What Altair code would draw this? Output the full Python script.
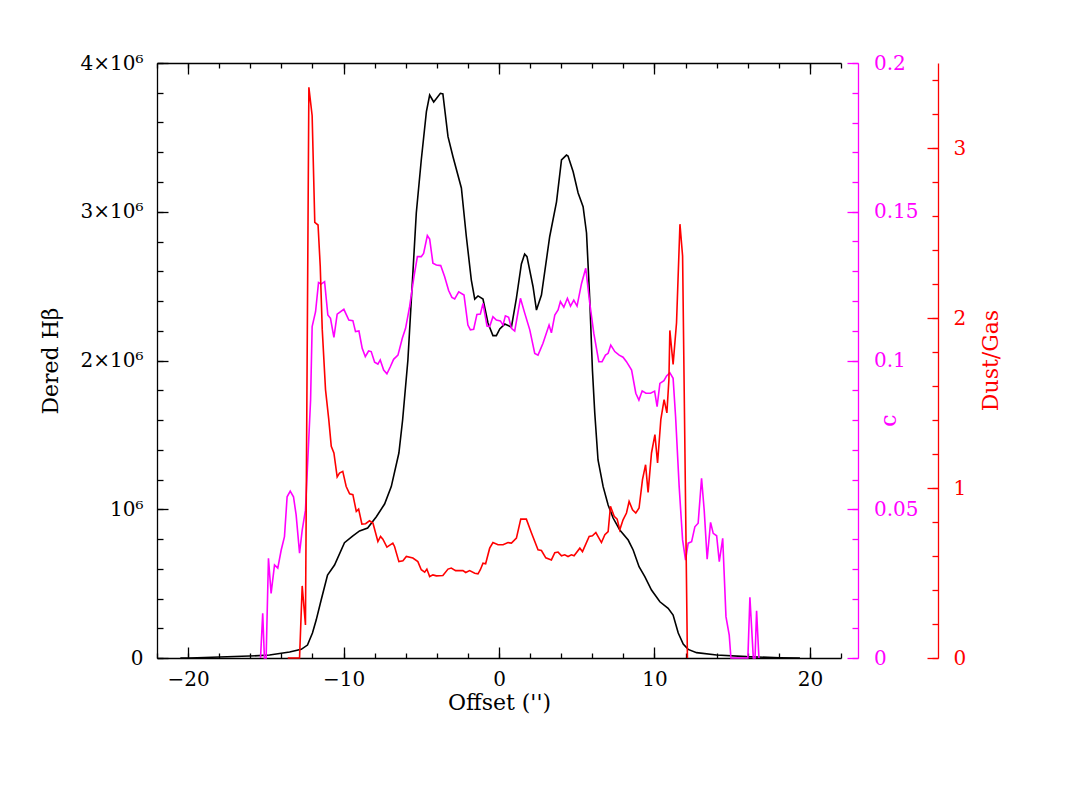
import altair as alt
import pandas as pd

# ---------------- data ----------------
# Dereddened H-beta (black), in units of 10^6
hb_x = [-20.5, -19.9, -16.05, -14.76, -13.47, -12.72, -12.32, -12.0, -11.76, -11.44,
        -11.03, -10.58, -9.94, -9.42, -8.97, -8.45, -7.89, -7.36, -6.93, -6.44,
        -6.20, -5.86, -5.32, -5.00, -4.67, -4.46, -4.20, -3.77, -3.61, -3.28,
        -2.96, -2.42, -2.10, -1.78, -1.56, -1.35, -1.03, -0.71, -0.39, -0.17,
        0.05, 0.37, 0.80, 1.12, 1.44, 1.65, 1.80, 2.19, 2.41, 2.73,
        3.26, 3.70, 4.02, 4.34, 4.44, 4.77, 5.09, 5.41, 5.63, 5.84,
        6.01, 6.16, 6.37, 6.70, 7.02, 7.34, 7.77, 8.31, 8.63, 9.01,
        9.38, 9.81, 10.35, 10.88, 11.20, 11.53, 11.85, 12.17, 12.71, 14.0,
        15.93, 18.07, 19.36]
hb_val = [0.0, 0.0, 0.013, 0.020, 0.040, 0.058, 0.087, 0.168, 0.255, 0.390,
          0.558, 0.625, 0.775, 0.820, 0.854, 0.874, 0.950, 1.035, 1.152, 1.378,
          1.600, 2.003, 2.992, 3.348, 3.673, 3.785, 3.738, 3.796, 3.792, 3.505,
          3.370, 3.160, 2.832, 2.541, 2.413, 2.434, 2.413, 2.252, 2.167, 2.167,
          2.212, 2.245, 2.225, 2.420, 2.649, 2.716, 2.698, 2.496, 2.339, 2.440,
          2.832, 3.067, 3.348, 3.381, 3.375, 3.269, 3.126, 3.034, 2.857, 2.407,
          1.936, 1.647, 1.331, 1.152, 1.029, 0.941, 0.861, 0.793, 0.726, 0.614,
          0.547, 0.457, 0.378, 0.334, 0.289, 0.168, 0.094, 0.058, 0.036, 0.020,
          0.009, 0.002, 0.0]

# Extinction coefficient c (magenta)
c_x = [-15.34, -15.20, -15.09, -14.98, -14.83, -14.66, -14.44, -14.23, -14.01, -13.80,
       -13.63, -13.43, -13.22, -13.05, -12.83, -12.66, -12.45, -12.30, -12.12, -12.02,
       -11.80, -11.61, -11.44, -11.22, -11.01, -10.84, -10.62, -10.41, -9.98, -9.66,
       -9.40, -9.23, -9.01, -8.80, -8.60, -8.39, -8.22, -8.00, -7.79, -7.64,
       -7.42, -7.21, -6.99, -6.78, -6.50, -6.22, -6.01, -5.75, -5.47, -5.25,
       -5.00, -4.85, -4.61, -4.46, -4.25, -4.03, -3.75, -3.50, -3.24, -3.03,
       -2.85, -2.59, -2.25, -2.00, -1.84, -1.63, -1.42, -1.20, -1.03, -0.77,
       -0.60, -0.39, -0.17, 0.09, 0.26, 0.41, 0.62, 0.80, 1.01, 1.38,
       1.65, 1.98, 2.30, 2.51, 2.83, 3.22, 3.37, 3.59, 3.80, 3.95,
       4.17, 4.40, 4.60, 4.81, 5.02, 5.31, 5.58, 5.84, 6.10, 6.42,
       6.63, 6.85, 7.02, 7.19, 7.45, 7.73, 7.98, 8.20, 8.53, 8.80,
       9.00, 9.21, 9.45, 9.75, 10.01, 10.17, 10.35, 10.61, 10.78, 10.99,
       11.20, 11.36, 11.59, 11.81, 12.00, 12.17, 12.39, 12.60, 12.81, 13.03,
       13.20, 13.39, 13.61, 13.78, 14.00, 14.17, 14.39, 14.60, 14.81, 14.92,
       16.01, 16.14, 16.36, 16.47, 16.57, 16.72]
c_val = [0, 0.0150, 0, 0, 0.0335, 0.0217, 0.0313, 0.0302, 0.0363, 0.0408,
         0.0542, 0.0561, 0.0542, 0.0481, 0.0352, 0.0430, 0.0497, 0.0666, 0.0867, 0.1114,
         0.1164, 0.1262, 0.1257, 0.1265, 0.1153, 0.1142, 0.1078, 0.1156, 0.1172, 0.1136,
         0.1134, 0.1097, 0.1099, 0.1041, 0.1013, 0.1032, 0.1030, 0.0994, 0.0988, 0.1002,
         0.0968, 0.0955, 0.0979, 0.1004, 0.1018, 0.1075, 0.1108, 0.1181, 0.1282, 0.1349,
         0.1349, 0.1360, 0.1420, 0.1408, 0.1327, 0.1321, 0.1319, 0.1282, 0.1235, 0.1212,
         0.1207, 0.1231, 0.1220, 0.1119, 0.1103, 0.1105, 0.1155, 0.1156, 0.1192, 0.1116,
         0.1114, 0.1147, 0.1136, 0.1133, 0.1119, 0.1150, 0.1145, 0.1108, 0.1099, 0.1209,
         0.1160, 0.1103, 0.1024, 0.1018, 0.1058, 0.1119, 0.1093, 0.1153, 0.1170, 0.1198,
         0.1179, 0.1209, 0.1183, 0.1203, 0.1183, 0.1259, 0.1310, 0.1192, 0.1091, 0.0996,
         0.0996, 0.1018, 0.1024, 0.1052, 0.1030, 0.1018, 0.1011, 0.0996, 0.0968, 0.0890,
         0.0867, 0.0898, 0.0890, 0.0890, 0.0897, 0.0845, 0.0923, 0.0932, 0.0948, 0.0959,
         0.0940, 0.0811, 0.0576, 0.0397, 0.0329, 0.0386, 0.0391, 0.0441, 0.0453, 0.0604,
         0.0497, 0.0332, 0.0456, 0.0419, 0.0411, 0.0324, 0.0402, 0.0139, 0.0077, 0,
         0, 0.0204, 0, 0, 0.0159, 0]

# Dust/Gas ratio (red)
dg_x = [-13.59, -12.83, -12.66, -12.45, -12.23, -12.02, -11.85, -11.64, -11.50, -11.37,
        -11.16, -10.95, -10.79, -10.62, -10.41, -10.26, -10.05, -9.83, -9.61, -9.40,
        -9.18, -9.03, -8.82, -8.58, -8.33, -8.11, -7.79, -7.62, -7.47, -7.21,
        -6.83, -6.72, -6.44, -6.18, -5.96, -5.54, -5.22, -5.00, -4.78, -4.64,
        -4.46, -4.25, -4.03, -3.61, -3.28, -3.07, -2.79, -2.32, -2.14, -1.89,
        -1.56, -1.35, -1.20, -1.03, -0.86, -0.60, -0.39, -0.06, 0.26, 0.58,
        0.80, 1.12, 1.40, 1.76, 2.09, 2.51, 2.73, 3.01, 3.37, 3.59,
        3.80, 4.02, 4.23, 4.44, 4.66, 4.83, 5.20, 5.37, 5.80, 6.01,
        6.23, 6.59, 6.81, 7.02, 7.17, 7.41, 7.60, 7.77, 7.98, 8.20,
        8.37, 8.59, 8.80, 9.01, 9.23, 9.43, 9.59, 9.81, 10.03, 10.20,
        10.41, 10.62, 10.80, 10.93, 10.99, 11.20, 11.42, 11.64, 11.81, 12.12]
dg_val = [0, 0, 0.424, 0.194, 3.357, 3.190, 2.562, 2.547, 2.306, 1.933,
          1.579, 1.402, 1.245, 1.206, 1.065, 1.088, 1.098, 1.009, 0.966, 0.961,
          0.862, 0.876, 0.788, 0.790, 0.807, 0.794, 0.685, 0.715, 0.699, 0.652,
          0.676, 0.656, 0.567, 0.572, 0.597, 0.588, 0.567, 0.519, 0.505, 0.523,
          0.479, 0.489, 0.483, 0.485, 0.523, 0.529, 0.514, 0.514, 0.503, 0.514,
          0.499, 0.495, 0.519, 0.558, 0.554, 0.646, 0.679, 0.666, 0.666, 0.679,
          0.676, 0.705, 0.817, 0.817, 0.735, 0.636, 0.632, 0.589, 0.577, 0.619,
          0.623, 0.601, 0.607, 0.597, 0.607, 0.601, 0.646, 0.626, 0.715, 0.719,
          0.738, 0.679, 0.725, 0.744, 0.892, 0.833, 0.817, 0.754, 0.813, 0.853,
          0.921, 0.872, 0.853, 0.882, 1.049, 1.137, 0.974, 1.206, 1.314, 1.147,
          1.402, 1.520, 1.442, 1.638, 1.927, 1.727, 1.972, 2.552, 2.365, 0]

# tick positions
x_major = [-20, -10, 0, 10, 20]
x_minor = list(range(-22, 23, 2))
hb_major = [0, 1e6, 2e6, 3e6, 4e6]
hb_minor = [i * 2e5 for i in range(21)]
c_major = [0, 0.05, 0.1, 0.15, 0.2]
c_minor = [round(i * 0.01, 2) for i in range(21)]
dg_major = [0, 1, 2, 3]
dg_minor = [round(i * 0.2, 1) for i in range(18)]

hb_df = pd.DataFrame({"x": hb_x, "y": [v * 1e6 for v in hb_val]})
c_df = pd.DataFrame({"x": c_x, "y": c_val})
dg_df = pd.DataFrame({"x": dg_x, "y": dg_val})

# ---------------- styling ----------------
W, H = 684, 595
FONT = "DejaVu Serif"
BLACK, MAGENTA, RED = "#000000", "#ff00ff", "#ff0000"
LBL, TTL = 20, 22
LW = 1.3
SW = 1.6

xscale = alt.Scale(domain=[-22, 22], nice=False, zero=False)
hb_scale = alt.Scale(domain=[0, 4e6], nice=False, zero=False)
c_scale = alt.Scale(domain=[0, 0.2], nice=False, zero=False)
dg_scale = alt.Scale(domain=[0, 3.5], nice=False, zero=False)


def minor_axis(orient, offset, values, color, size=6):
    return alt.Axis(orient=orient, offset=offset, values=values, tickSize=size,
                    tickColor=color, tickWidth=LW, grid=False, labels=False,
                    domain=False, title=None)


# x axes: bottom (labels below, ticks inward) and top (ticks inward)
ax_x_bottom = alt.Axis(
    orient="top", offset=-H, values=x_major, tickSize=11, tickColor=BLACK, tickWidth=LW,
    grid=False, domain=True, domainColor=BLACK, domainWidth=LW,
    format="d", labelFont=FONT, labelFontSize=LBL, labelColor=BLACK,
    labelPadding=-38, labelBaseline="alphabetic", labelAlign="center",
    labelFlush=False, labelOverlap=False, labelBound=False,
    title="Offset ('')", titleFont=FONT, titleFontSize=TTL, titleFontWeight="normal",
    titleColor=BLACK, titleX=W / 2, titleY=51, titleAngle=0, titleAlign="center",
    titleBaseline="alphabetic")
ax_x_bottom_minor = minor_axis("top", -H, x_minor, BLACK, 5)
ax_x_top = alt.Axis(
    orient="bottom", offset=-H, values=x_major, tickSize=11, tickColor=BLACK, tickWidth=LW,
    grid=False, domain=True, domainColor=BLACK, domainWidth=LW, labels=False, title=None)
ax_x_top_minor = minor_axis("bottom", -H, x_minor, BLACK, 5)

# left black axis (ticks inward, labels outside)
ax_hb = alt.Axis(
    orient="right", offset=-W, values=hb_major, tickSize=11, tickColor=BLACK, tickWidth=LW,
    grid=False, domain=True, domainColor=BLACK, domainWidth=LW,
    labelExpr="datum.value == 0 ? '0' : (datum.value == 1000000 ? '10⁶' : format(datum.value / 1000000, 'd') + '×10⁶')",
    labelFont=FONT, labelFontSize=LBL, labelColor=BLACK, labelAlign="right",
    labelBaseline="middle", labelPadding=-25, labelFlush=False, labelOverlap=False,
    labelBound=False,
    title="Dered Hβ", titleFont=FONT, titleFontSize=TTL, titleFontWeight="normal",
    titleColor=BLACK, titleX=-100, titleY=H / 2, titleAngle=270, titleAlign="center",
    titleBaseline="alphabetic")
ax_hb_minor = minor_axis("right", -W, hb_minor, BLACK, 6)

# magenta c axis
C_OFF = 17
ax_c = alt.Axis(
    orient="left", offset=-(W + C_OFF), values=c_major, tickSize=11, tickColor=MAGENTA,
    tickWidth=LW, grid=False, domain=True, domainColor=MAGENTA, domainWidth=LW,
    format="~g", labelFont=FONT, labelFontSize=LBL, labelColor=MAGENTA, labelAlign="left",
    labelBaseline="middle", labelPadding=-26.5, labelFlush=False, labelOverlap=False,
    labelBound=False,
    title="c", titleFont=FONT, titleFontSize=TTL, titleFontWeight="normal",
    titleColor=MAGENTA, titleX=37, titleY=357, titleAngle=270, titleAlign="center",
    titleBaseline="alphabetic")
ax_c_minor = minor_axis("left", -(W + C_OFF), c_minor, MAGENTA, 6)

# red Dust/Gas axis
D_OFF = 97
ax_dg = alt.Axis(
    orient="left", offset=-(W + D_OFF), values=dg_major, tickSize=11, tickColor=RED,
    tickWidth=LW, grid=False, domain=True, domainColor=RED, domainWidth=LW,
    format="d", labelFont=FONT, labelFontSize=LBL, labelColor=RED, labelAlign="left",
    labelBaseline="middle", labelPadding=-26, labelFlush=False, labelOverlap=False,
    labelBound=False,
    title="Dust/Gas", titleFont=FONT, titleFontSize=TTL, titleFontWeight="normal",
    titleColor=RED, titleX=59, titleY=297, titleAngle=270, titleAlign="center",
    titleBaseline="alphabetic")
ax_dg_minor = minor_axis("left", -(W + D_OFF), dg_minor, RED, 6)

# ---------------- layers ----------------
black_minor = alt.Chart(hb_df).mark_line(strokeOpacity=0).encode(
    x=alt.X("x:Q", scale=xscale, axis=ax_x_bottom_minor),
    y=alt.Y("y:Q", scale=hb_scale, axis=ax_hb_minor))
black = alt.Chart(hb_df).mark_line(color=BLACK, strokeWidth=SW).encode(
    x=alt.X("x:Q", scale=xscale, axis=ax_x_bottom),
    y=alt.Y("y:Q", scale=hb_scale, axis=ax_hb))

mag_minor = alt.Chart(c_df).mark_line(strokeOpacity=0).encode(
    x=alt.X("x:Q", scale=xscale, axis=ax_x_top_minor),
    y=alt.Y("y:Q", scale=c_scale, axis=ax_c_minor))
mag = alt.Chart(c_df).mark_line(color=MAGENTA, strokeWidth=SW).encode(
    x=alt.X("x:Q", scale=xscale, axis=ax_x_top),
    y=alt.Y("y:Q", scale=c_scale, axis=ax_c))

red_minor = alt.Chart(dg_df).mark_line(strokeOpacity=0).encode(
    x=alt.X("x:Q", scale=xscale, axis=None),
    y=alt.Y("y:Q", scale=dg_scale, axis=ax_dg_minor))
red = alt.Chart(dg_df).mark_line(color=RED, strokeWidth=SW).encode(
    x=alt.X("x:Q", scale=xscale, axis=None),
    y=alt.Y("y:Q", scale=dg_scale, axis=ax_dg))

chart = alt.layer(black_minor, mag_minor, red_minor, black, mag, red).resolve_scale(
    y="independent"
).resolve_axis(
    x="independent", y="independent"
).properties(
    width=W, height=H,
    autosize=alt.AutoSizeParams(type="none"),
    padding={"left": 149, "top": 55, "right": 190, "bottom": 100},
    background="white",
).configure_view(stroke=None)

chart.save("out.html", embed_options={"renderer": "svg", "actions": False})
